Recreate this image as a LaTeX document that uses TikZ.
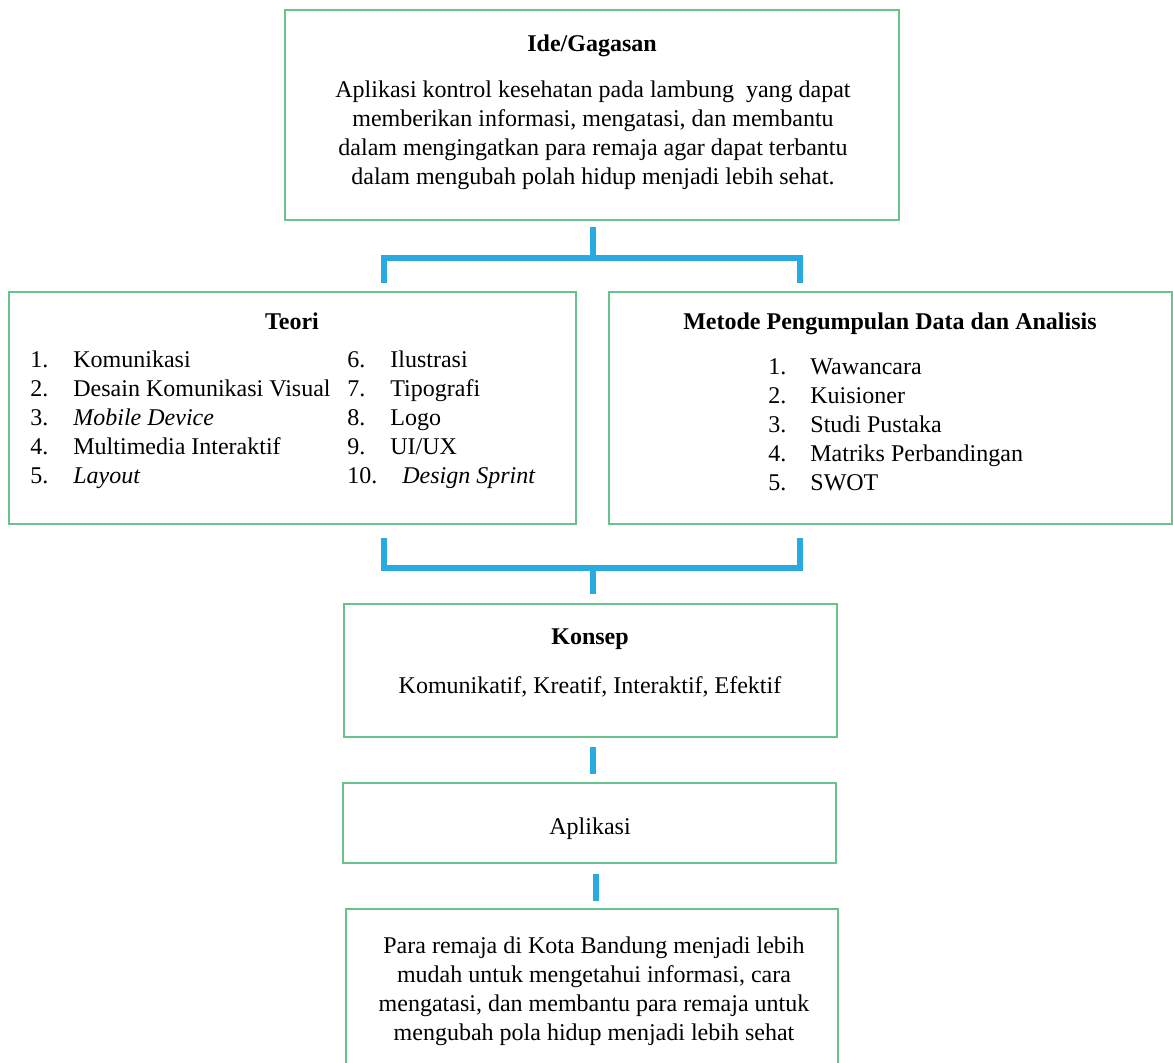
\documentclass[tikz,border=0pt]{standalone}
\usepackage{fontspec}
\setmainfont{Liberation Serif}
\definecolor{boxgreen}{RGB}{104,196,140}
\definecolor{linkblue}{RGB}{41,171,226}
\tikzset{
  box/.style={draw=boxgreen, line width=0.75pt, rectangle, inner sep=0pt},
  link/.style={draw=linkblue, line width=3pt},
  txt/.style={inner sep=0pt, anchor=base, font=\fontsize{12}{14.5}\selectfont},
  ttl/.style={txt, font=\fontsize{12}{14.5}\selectfont\bfseries},
}
\begin{document}
\begin{tikzpicture}[x=0.5pt, y=-0.5pt]
			\useasboundingbox (0,0) rectangle (1173,1063);
			% kotak
			\node[box, minimum width=307pt,   minimum height=105pt]  (ide)      at (592,115)     {};
			\node[box, minimum width=283.5pt, minimum height=116pt]  (teori)    at (292.5,408)   {};
			\node[box, minimum width=281.5pt, minimum height=116pt]  (metode)   at (890.5,408)   {};
			\node[box, minimum width=246.5pt, minimum height=66.5pt] (konsep)   at (590.5,670.5) {};
			\node[box, minimum width=246.5pt, minimum height=40pt]   (aplikasi) at (589.5,823)   {};
			\node[box, minimum width=246pt,   minimum height=85pt]   (hasil)    at (592,994)     {};
			%
			\node[ttl] (ideT) at (592,52) {Ide/Gagasan};
			\node[txt, align=center] (ideB) at (593,185) {Aplikasi kontrol kesehatan pada lambung\ \ yang dapat\\
				memberikan informasi, mengatasi, dan membantu\\
				dalam mengingatkan para remaja agar dapat terbantu\\
				dalam mengubah polah hidup menjadi lebih sehat.};
			%
			\node[ttl] (teoriT) at (292,330) {Teori};
			\def\teorikiri {1/Komunikasi/73, 2/Desain Komunikasi Visual/73, 3/\textit{Mobile Device}/73,
				4/Multimedia Interaktif/73, 5/\textit{Layout}/73}  % kolom kiri
			\foreach \n/\t/\x [count=\i] in \teorikiri
			{	\node[txt, anchor=base west] (tn\n) at (30,339+29*\i) {\n.};
				\node[txt, anchor=base west] (tt\n) at (\x,339+29*\i) {\t};
			}
			\def\teorikanan {6/Ilustrasi/390, 7/Tipografi/390, 8/Logo/390, 9/{UI/UX}/390,
				10/\textit{Design Sprint}/402}  % kolom kanan
			\foreach \n/\t/\x [count=\i] in \teorikanan
			{	\node[txt, anchor=base west] (tn\n) at (347,339+29*\i) {\n.};
				\node[txt, anchor=base west] (tt\n) at (\x,339+29*\i) {\t};
			}
			%
			\node[ttl] (metodeT) at (890,330) {Metode Pengumpulan Data dan Analisis};
			\def\metode {1/Wawancara, 2/Kuisioner, 3/Studi Pustaka, 4/Matriks Perbandingan, 5/SWOT}
			\foreach \n/\t [count=\i] in \metode
			{	\node[txt, anchor=base west] (mn\n) at (768,346+29*\i) {\n.};
				\node[txt, anchor=base west] (mt\n) at (810,346+29*\i) {\t};
			}
			%
			\node[ttl] (konsepT) at (590,645) {Konsep};
			\node[txt] (konsepB) at (590,694) {Komunikatif, Kreatif, Interaktif, Efektif};
			\node[txt] (aplikasiT) at (590,834) {Aplikasi};
			\node[txt, align=center] (hasilB) at (594,1040) {Para remaja di Kota Bandung menjadi lebih\\
				mudah untuk mengetahui informasi, cara\\
				mengatasi, dan membantu para remaja untuk\\
				mengubah pola hidup menjadi lebih sehat};
			%
			\coordinate (jt)  at (593,258);
			\coordinate (jtl) at (384,283);
			\coordinate (jtr) at (800,283);
			\coordinate (jb)  at (593,568);
			\coordinate (jbl) at (384,538);
			\coordinate (jbr) at (800,538);
			\draw[link] (ide.south -| jt) ++(0,6) -- (jt);
			\draw[link] (jtl) |- (jt) -| (jtr);
			\draw[link] (jbl) |- (jb) -| (jbr);
			\draw[link, shorten >=4.5pt] (jb) -- (konsep.north -| jb);
			\draw[link, shorten <=4.5pt, shorten >=4pt] (konsep.south -| jb) -- (aplikasi.north -| jb);
			\draw[link, shorten <=5pt, shorten >=3.5pt] ([xshift=1.5pt]aplikasi.south -| jb) -- ([xshift=1.5pt]hasil.north -| jb);
		\end{tikzpicture}
\end{document}
